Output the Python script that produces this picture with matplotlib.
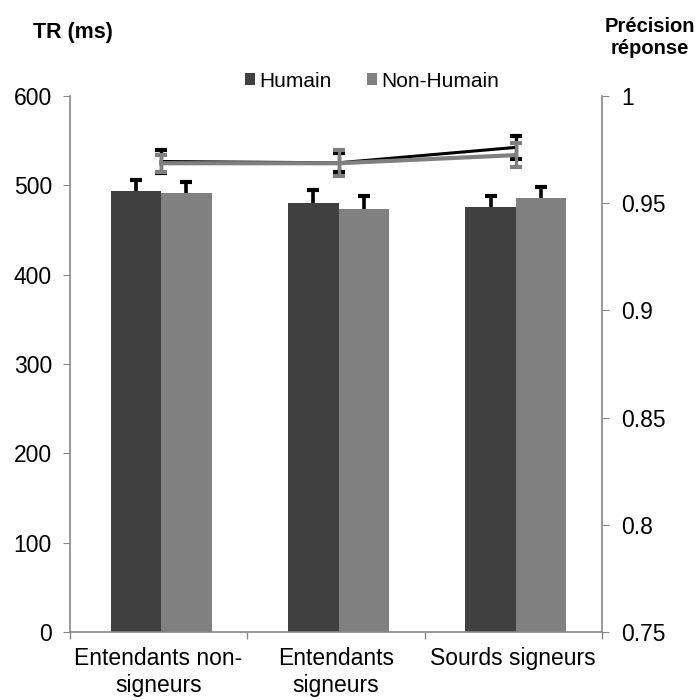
import matplotlib
matplotlib.use("Agg")
import matplotlib.pyplot as plt
import numpy as np

plt.rcParams['font.family'] = ['Liberation Sans', 'DejaVu Sans']

categories = ["Entendants non-\nsigneurs", "Entendants\nsigneurs", "Sourds signeurs"]
series = ["Humain", "Non-Humain"]
rt_humain = [493.5, 480, 475.5]
rt_nonhumain = [491.5, 473.5, 485.5]
rt_err_humain = [12.5, 15, 13]
rt_err_nonhumain = [12.5, 14, 13]
acc_humain = [0.9694, 0.9688, 0.9760]
acc_nonhumain = [0.9686, 0.9686, 0.9724]
acc_err_humain = [0.0054, 0.0045, 0.0054]
acc_err_nonhumain = [0.0040, 0.0061, 0.0056]

bar_colors = ["#404040", "#808080"]
line_colors = ["#000000", "#808080"]
spine_c = "#868686"

fig = plt.figure(figsize=(6.99, 7.0), dpi=100)
ax = fig.add_axes([0.100, 0.097, 0.761, 0.766])
ax2 = ax.twinx()

x = np.arange(len(categories))
w = 0.285
off = 0.015
ax.bar(x - w/2 + off, rt_humain, w, color=bar_colors[0], label=series[0], zorder=2)
ax.bar(x + w/2 + off, rt_nonhumain, w, color=bar_colors[1], label=series[1], zorder=2)
for xs, vals, errs in [(x - w/2 + off, rt_humain, rt_err_humain), (x + w/2 + off, rt_nonhumain, rt_err_nonhumain)]:
    vals = np.array(vals); errs = np.array(errs)
    ax.vlines(xs, vals, vals + errs, color='black', lw=2.6, zorder=3)
    ax.plot(xs, vals + errs, ls='none', marker='_', ms=9, mew=3, color='black', zorder=3)

ax.set_ylim(0, 600)
ax.set_xlim(-0.5, 2.5)
ax.set_yticks(np.arange(0, 601, 100))
ax.set_xticks(x)
ax.set_xticklabels(categories)
ax.set_xticks([-0.5, 0.5, 1.5, 2.5], minor=True)
ax.tick_params(axis='x', which='major', length=0, labelsize=16.5, pad=11)
ax.tick_params(axis='x', which='minor', length=5, color=spine_c, width=1)
ax.tick_params(axis='y', length=5, color=spine_c, labelsize=16.5, pad=8)

ax2.errorbar(x + off, acc_humain, yerr=acc_err_humain, color=line_colors[0], lw=2.2,
             elinewidth=2.4, capsize=4.5, capthick=3, zorder=3)
ax2.errorbar(x + off, acc_nonhumain, yerr=acc_err_nonhumain, color=line_colors[1], lw=3,
             elinewidth=2.4, capsize=4.5, capthick=3, zorder=4)
ax2.set_ylim(0.75, 1.0)
ax2.set_yticks([0.75, 0.8, 0.85, 0.9, 0.95, 1.0])
ax2.set_yticklabels(["0.75", "0.8", "0.85", "0.9", "0.95", "1"])
ax2.tick_params(axis='y', length=5, color=spine_c, labelsize=16.5, pad=9)

for a in (ax, ax2):
    a.spines['top'].set_visible(False)
    for s in ('left', 'right', 'bottom'):
        a.spines[s].set_color(spine_c)
        a.spines[s].set_linewidth(1.2)
ax.spines['right'].set_visible(False)
ax2.spines['left'].set_visible(False)
ax2.spines['bottom'].set_visible(False)

leg = ax.legend(loc='upper center', bbox_to_anchor=(0.568, 1.08), ncol=2, frameon=False,
                fontsize=15, handlelength=0.5, handleheight=0.5, handletextpad=0.2,
                columnspacing=1.7)

fig.text(0.047, 0.953, "TR (ms)", fontsize=15.5, fontweight='bold', ha='left', va='center')
fig.text(0.930, 0.946, "Précision\nréponse", fontsize=14.5, fontweight='bold', ha='center',
         va='center', linespacing=1.2)

fig.savefig("out.png", dpi=100)
